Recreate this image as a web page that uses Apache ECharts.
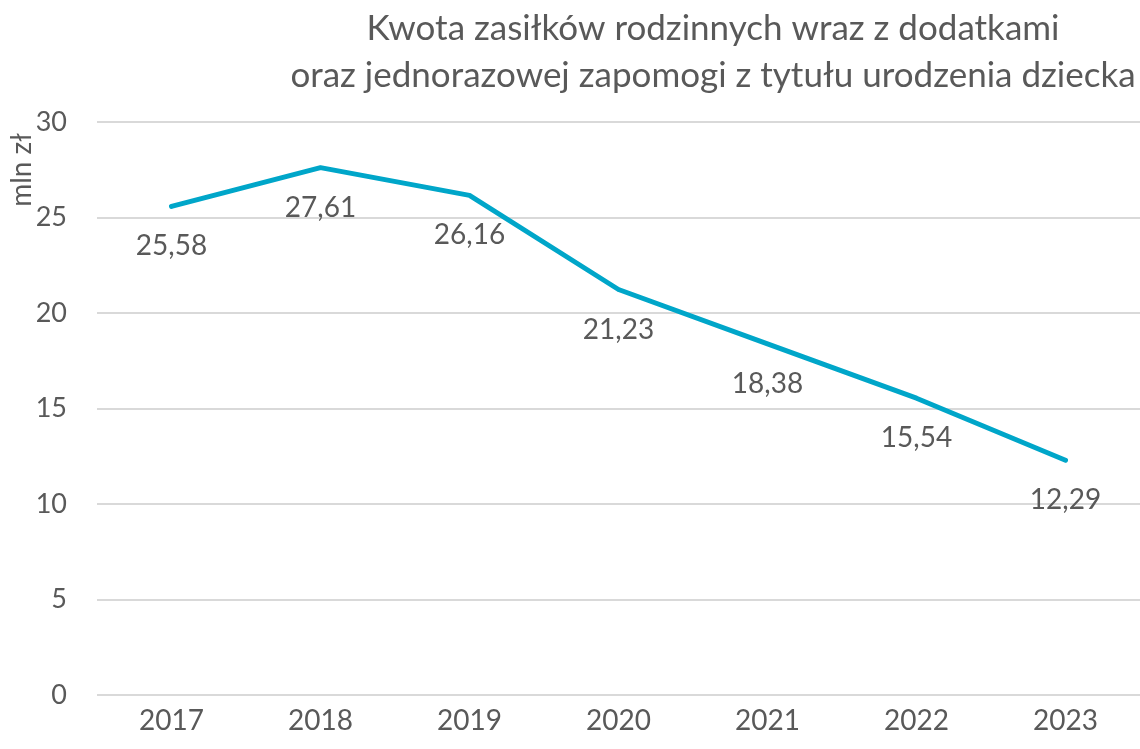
<!DOCTYPE html>
<html>
<head>
<meta charset="utf-8">
<style>
  html, body { margin: 0; padding: 0; background: #fff; }
  #chart { width: 1140px; height: 749px; }
</style>
<script src="https://cdn.jsdelivr.net/npm/echarts@6/dist/echarts.min.js"></script>
</head>
<body>
<div id="chart"></div>
<script>
  const years = ['2017', '2018', '2019', '2020', '2021', '2022', '2023'];
  const amounts = [25.58, 27.61, 26.16, 21.23, 18.38, 15.54, 12.29];
  const titleLines = ['Kwota zasiłków rodzinnych wraz z dodatkami', 'oraz jednorazowej zapomogi z tytułu urodzenia dziecka'];
  const unitLabel = 'mln zł';

  const textColor = '#595959';
  const lineColor = '#00a6c9';
  const font = 'Lato, "Open Sans", sans-serif';

  const chart = echarts.init(document.getElementById('chart'));
  chart.setOption({
    animation: false,
    title: {
      text: titleLines.join('\n'),
      left: 708,
      top: 0,
      textAlign: 'center',
      textStyle: { color: textColor, fontFamily: font, fontWeight: 'normal', fontSize: 35, lineHeight: 47 }
    },
    graphic: [{
      type: 'text',
      x: 22, y: 170,
      rotation: Math.PI / 2,
      style: { text: unitLabel, fill: textColor, font: '28px ' + font, textAlign: 'center', textVerticalAlign: 'middle' }
    }],
    grid: { left: 97, right: -5, top: 122, bottom: 54 },
    xAxis: {
      type: 'category',
      data: years,
      axisLine: { show: false },
      axisTick: { show: false },
      axisLabel: { color: textColor, fontFamily: font, fontSize: 28, margin: 12 }
    },
    yAxis: {
      type: 'value',
      min: 0, max: 30, interval: 5,
      axisLine: { show: false },
      axisTick: { show: false },
      axisLabel: { color: textColor, fontFamily: font, fontSize: 27, margin: 30 },
      splitLine: { lineStyle: { color: '#d9d9d9', width: 2 } }
    },
    series: [{
      type: 'line',
      data: amounts,
      showSymbol: true,
      symbol: 'circle',
      symbolSize: 4,
      itemStyle: { color: lineColor },
      lineStyle: { color: lineColor, width: 5, cap: 'round', join: 'round' },
      label: {
        show: true,
        position: 'bottom',
        distance: 24,
        color: textColor,
        fontFamily: font,
        fontSize: 28,
        formatter: p => p.value.toFixed(2).replace('.', ',')
      }
    }]
  });
</script>
</body>
</html>
